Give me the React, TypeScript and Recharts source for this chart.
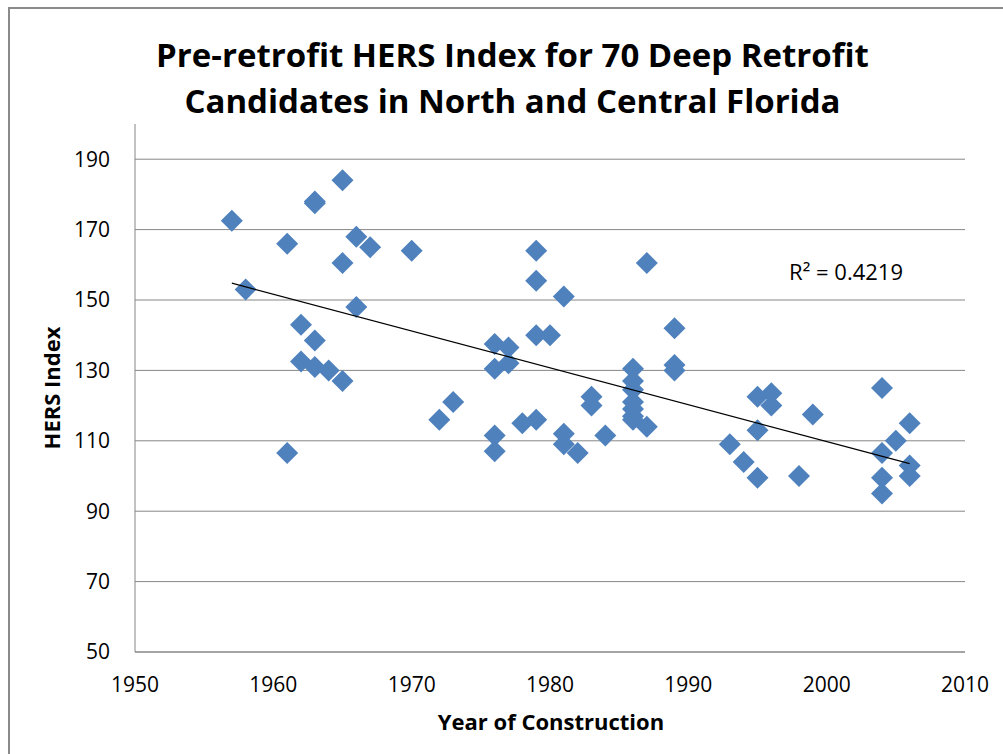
import React from 'react';
import {
  ScatterChart,
  Scatter,
  XAxis,
  YAxis,
  CartesianGrid,
  ReferenceDot,
} from 'recharts';

// year of construction and pre-retrofit HERS index
const years = [
  1957, 1958, 1961, 1961, 1962, 1962, 1963, 1963, 1963, 1963,
  1964, 1965, 1965, 1965, 1966, 1966, 1967, 1970, 1972, 1973,
  1976, 1976, 1976, 1976, 1977, 1977, 1978, 1979, 1979, 1979,
  1979, 1980, 1981, 1981, 1981, 1982, 1983, 1983, 1984, 1986,
  1986, 1986, 1986, 1986, 1986, 1986, 1987, 1987, 1989, 1989,
  1989, 1993, 1994, 1995, 1995, 1995, 1996, 1996, 1998, 1999,
  2004, 2004, 2004, 2004, 2005, 2006, 2006, 2006,
];
const hers = [
  172.5, 153, 166, 106.5, 143, 132.5, 178, 177.5, 138.5, 131,
  130, 184, 160.5, 127, 168, 148, 165, 164, 116, 121,
  137.5, 130.5, 111.5, 107, 136.5, 132, 115, 164, 155.5, 140,
  116, 140, 151, 112, 109, 106.5, 122.5, 120, 111.5, 130.5,
  127, 124.5, 121, 119, 117, 116, 160.5, 114, 142, 131.5,
  130, 109, 104, 122.5, 113, 99.5, 123.5, 120, 100, 117.5,
  125, 106.5, 99.5, 95, 110, 115, 103, 100,
];

// linear trendline endpoints as drawn in the chart
const trendYears = [1957, 2006];
const trendValues = [154.8, 103.5];

const xTicks = [1950, 1960, 1970, 1980, 1990, 2000, 2010];
const yTicks = [50, 70, 90, 110, 130, 150, 170, 190];

const points = years.map((x, i) => ({ x, y: hers[i] }));
const trend = trendYears.map((x, i) => ({ x, y: trendValues[i] }));

const FONT = '"Open Sans", sans-serif';
const GRID = '#868686';
const BLUE = '#4F81BD';

const Diamond = (props: any) => {
  const { cx, cy } = props;
  const r = 11;
  return (
    <polygon
      points={`${cx},${cy - r} ${cx + r},${cy} ${cx},${cy + r} ${cx - r},${cy}`}
      fill={BLUE}
    />
  );
};

const NoShape = () => null;

const App: React.FC = () => {
  return (
    <div
      style={{
        position: 'absolute',
        left: 0,
        top: 0,
        width: 1003,
        height: 754,
        overflow: 'hidden',
        background: '#fff',
        fontFamily: FONT,
      }}
    >
      <div
        style={{
          position: 'absolute',
          left: 8,
          top: 7,
          width: 1010,
          height: 760,
          border: '2px solid #8a8a8a',
        }}
      />
      <div
        style={{
          position: 'absolute',
          left: 11,
          top: 32,
          width: 1003,
          textAlign: 'center',
          fontSize: 33,
          fontWeight: 700,
          lineHeight: '46px',
          color: '#000',
        }}
      >
        Pre-retrofit HERS Index for 70 Deep Retrofit
        <br />
        Candidates in North and Central Florida
      </div>

      <ScatterChart
        width={1003}
        height={754}
        margin={{ top: 124, right: 38, bottom: 62, left: 75 }}
        style={{ position: 'absolute', left: 0, top: 0 }}
      >
        <CartesianGrid
          vertical={false}
          horizontalValues={yTicks}
          stroke={GRID}
          strokeWidth={1}
        />
        <XAxis
          type="number"
          dataKey="x"
          domain={[1950, 2010]}
          ticks={xTicks}
          height={40}
          axisLine={{ stroke: GRID }}
          tickLine={false}
          tickSize={0}
          tickMargin={25}
          tick={{ fill: '#000', fontSize: 21, fontFamily: FONT }}
        />
        <YAxis
          type="number"
          dataKey="y"
          domain={[50, 200]}
          ticks={yTicks}
          width={60}
          axisLine={{ stroke: GRID }}
          tickLine={false}
          tickSize={0}
          tickMargin={25}
          tick={{ fill: '#000', fontSize: 21, fontFamily: FONT }}
        />
        <Scatter data={points} shape={Diamond} isAnimationActive={false} />
        <Scatter
          data={trend}
          line={{ stroke: '#000', strokeWidth: 1.2 }}
          shape={NoShape}
          isAnimationActive={false}
        />
        <ReferenceDot
          x={2001.4}
          y={158}
          r={0}
          fill="none"
          stroke="none"
          ifOverflow="visible"
          label={{
            value: 'R² = 0.4219',
            position: 'center',
            fill: '#000',
            fontSize: 22,
            fontFamily: FONT,
          }}
        />
      </ScatterChart>

      <div
        style={{
          position: 'absolute',
          left: 351,
          top: 706,
          width: 400,
          textAlign: 'center',
          fontSize: 22,
          fontWeight: 700,
          lineHeight: '30px',
          color: '#000',
        }}
      >
        Year of Construction
      </div>
      <div
        style={{
          position: 'absolute',
          left: 51 - 100,
          top: 388 - 15,
          width: 200,
          textAlign: 'center',
          fontSize: 22,
          fontWeight: 700,
          lineHeight: '30px',
          color: '#000',
          transform: 'rotate(-90deg)',
        }}
      >
        HERS Index
      </div>
    </div>
  );
};

export default App;
